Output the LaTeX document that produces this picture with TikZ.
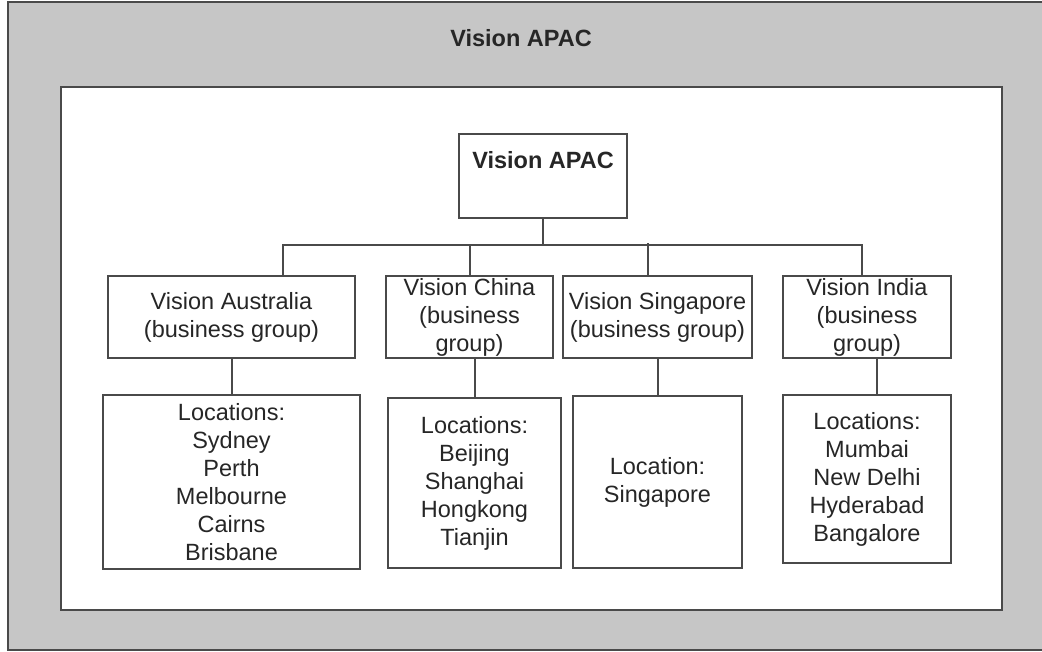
\documentclass[tikz,border=0pt]{standalone}
\usepackage{fontspec}
\setmainfont{Liberation Sans}
\definecolor{framegray}{HTML}{C6C6C6}
\definecolor{linegray}{HTML}{4A4A4A}

\begin{document}
\begin{tikzpicture}[x=1pt,y=-1pt,
    every node/.style={font=\fontsize{23.5}{28}\selectfont,text=black!85},
    unit/.style={draw=linegray,line width=2pt,fill=white,inner sep=0pt,align=center},
    link/.style={draw=linegray,line width=2pt}]
  \useasboundingbox (0,0) rectangle (1042,651);
  \draw[linegray,line width=2pt,fill=framegray] (8,2) rectangle (1060,650);
  \draw[linegray,line width=2pt,fill=white] (61,87) rectangle (1002,610);
  \node[anchor=base,font=\fontsize{23.5}{28}\selectfont\bfseries] (title) at (521,46) {Vision APAC};
  % top unit
  \node[unit,minimum width=168pt,text height=34pt,text depth=50pt,
        font=\fontsize{23.5}{28}\selectfont\bfseries] (apac) at (543,176) {Vision APAC};
  % business groups
  \node[unit,minimum width=247pt,minimum height=82pt] (aus) at (231.5,317) {Vision Australia\\(business group)};
  \node[unit,minimum width=167pt,minimum height=82pt] (chn) at (469.5,317) {Vision China\\(business\\group)};
  \node[unit,minimum width=189pt,minimum height=82pt] (sgp) at (657.5,317) {Vision Singapore\\(business group)};
  \node[unit,minimum width=168pt,minimum height=82pt] (ind) at (867,317) {Vision India\\(business\\group)};
  % locations
  \node[unit,minimum width=257pt,minimum height=174pt] (ausloc) at (231.5,482)
       {Locations:\\Sydney\\Perth\\Melbourne\\Cairns\\Brisbane};
  \node[unit,minimum width=173pt,minimum height=170pt] (chnloc) at (474.5,483)
       {Locations:\\Beijing\\Shanghai\\Hongkong\\Tianjin};
  \node[unit,minimum width=169pt,minimum height=172pt] (sgploc) at (657.5,482)
       {Location:\\Singapore};
  \node[unit,minimum width=168pt,minimum height=168pt] (indloc) at (867,479)
       {Locations:\\Mumbai\\New Delhi\\Hyderabad\\Bangalore};
  % tree lines
  \draw[link] (apac.south) -- ++(0,26) coordinate (bus);
  \draw[link] ([xshift=51pt]aus.north) |- (bus) -| ([xshift=-5pt]ind.north);
  \draw[link] (chn.north) -- (chn.north |- bus);
  \draw[link] ([xshift=-10pt]sgp.north) -- ++(0,-32);
  \draw[link] (aus.south) -- (ausloc.north);
  \draw[link] ([xshift=5pt]chn.south) -- (chnloc.north);
  \draw[link] (sgp.south) -- (sgploc.north);
  \draw[link] ([xshift=10pt]ind.south) -- ([xshift=10pt]indloc.north);
\end{tikzpicture}
\end{document}
